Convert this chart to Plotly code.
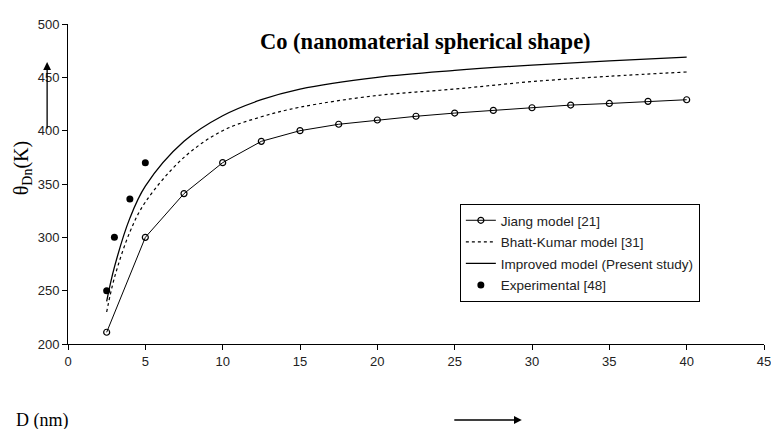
import plotly.graph_objects as go

jiang_x = [2.5, 5, 7.5, 10, 12.5, 15, 17.5, 20, 22.5, 25, 27.5, 30, 32.5, 35, 37.5, 40]
jiang_y = [211, 300, 341, 370, 390, 400, 406, 410, 413.5, 416.5, 419, 421.5, 424, 425.5, 427.5, 429]

bk_x = [2.5, 3, 4, 5, 7.5, 10, 12.5, 15, 20, 25, 30, 35, 40]
bk_y = [230, 262, 305, 333, 375, 400, 413, 422, 433, 439, 446, 451, 455]

imp_x = [2.5, 3, 4, 5, 7.5, 10, 12.5, 15, 20, 25, 30, 35, 40]
imp_y = [240, 272, 318, 348, 390, 414, 429, 439, 450, 456.5, 461.5, 465.5, 469]

exp_x = [2.5, 3, 4, 5]
exp_y = [250, 300, 336, 370]

fig = go.Figure()
fig.add_trace(go.Scatter(x=jiang_x, y=jiang_y, mode="lines+markers", name="Jiang model [21]",
                         legendgroup="a",
                         line=dict(color="black", width=1),
                         marker=dict(symbol="circle-open", size=6, color="black", line=dict(width=1.2))))
fig.add_trace(go.Scatter(x=bk_x, y=bk_y, mode="lines", name="Bhatt-Kumar model [31]",
                         legendgroup="b",
                         line=dict(color="black", width=1.2, dash="dot", shape="spline")))
fig.add_trace(go.Scatter(x=imp_x, y=imp_y, mode="lines", name="Improved model (Present study)",
                         legendgroup="c",
                         line=dict(color="black", width=1.3, shape="spline")))
fig.add_trace(go.Scatter(x=exp_x, y=exp_y, mode="markers", name="Experimental [48]",
                         legendgroup="d",
                         marker=dict(symbol="circle", size=7, color="black")))

tickfont = dict(family="Arial, Liberation Sans, sans-serif", size=13, color="#222")
fig.update_layout(
    width=771, height=429,
    margin=dict(l=68, r=7, t=24, b=85, autoexpand=False),
    paper_bgcolor="white", plot_bgcolor="white",
    showlegend=True,
    legend=dict(x=0.563, y=0.4375, xanchor="left", yanchor="top",
                bordercolor="black", borderwidth=1, bgcolor="white",
                font=dict(family="Arial, Liberation Sans, sans-serif", size=13.5, color="#222"),
                tracegroupgap=1),
    xaxis=dict(range=[0, 45], tickvals=[0, 5, 10, 15, 20, 25, 30, 35, 40, 45],
               showline=True, linecolor="black", linewidth=1, ticks="outside", ticklen=5,
               tickcolor="black", showgrid=False, zeroline=False, tickfont=tickfont,
               ticklabeloverflow="allow", automargin=False),
    yaxis=dict(range=[200, 500], tickvals=[200, 250, 300, 350, 400, 450, 500],
               showline=True, linecolor="black", linewidth=1, ticks="outside", ticklen=5,
               tickcolor="black", showgrid=False, zeroline=False, tickfont=tickfont,
               ticklabeloverflow="allow", automargin=False),
)

serif = "Liberation Serif, Times New Roman, serif"
fig.add_annotation(text="<b>Co (nanomaterial spherical shape)</b>", xref="paper", yref="paper",
                   x=0.5137, y=0.99, showarrow=False, font=dict(family=serif, size=22.5, color="black"))
fig.add_annotation(text="θ<sub>Dn</sub>(K)", xref="paper", yref="paper", x=-0.086, y=0.548,
                   textangle=-90, showarrow=False, font=dict(family=serif, size=20, color="black"))
fig.add_annotation(text="D (nm)", xref="paper", yref="paper", x=-0.0776, y=-0.2375,
                   xanchor="left", yanchor="middle", showarrow=False,
                   font=dict(family=serif, size=18, color="black"))
fig.add_annotation(text="", xref="paper", yref="paper", x=-0.030, y=0.881, ax=0, ay=68,
                   showarrow=True, arrowhead=2, arrowsize=1.2, arrowwidth=1.3, arrowcolor="black")
fig.add_annotation(text="", xref="paper", yref="paper", x=0.652, y=-0.2375, ax=-69, ay=0,
                   showarrow=True, arrowhead=2, arrowsize=1.2, arrowwidth=1.3, arrowcolor="black")

fig.write_html("out.html")
